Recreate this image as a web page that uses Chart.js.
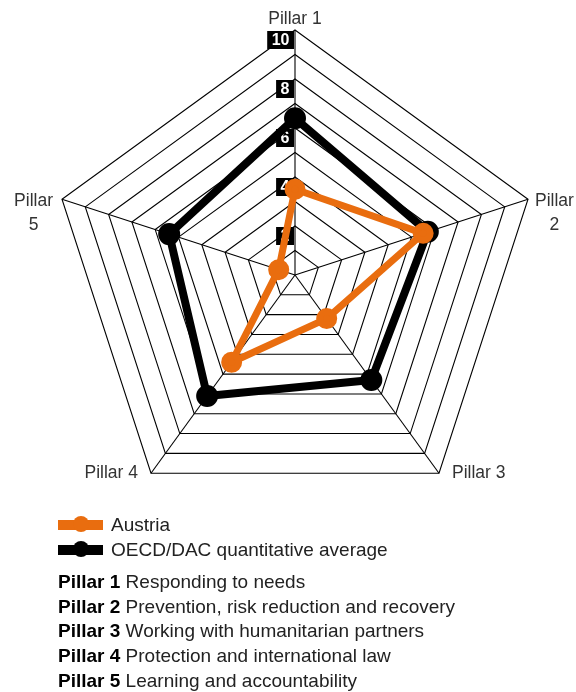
<!DOCTYPE html>
<html>
<head>
<meta charset="utf-8">
<script src="https://cdn.jsdelivr.net/npm/chart.js@4.4.1/dist/chart.umd.min.js"></script>
<style>
  body { margin: 0; width: 576px; height: 692px; background: #fff; position: relative;
         font-family: "Liberation Sans", Arial, sans-serif; color: #222; }
  #wrap { position: absolute; left: 0; top: 0; width: 576px; height: 522px; }
  #legend { position: absolute; left: 58px; top: 513px; font-size: 19px; }
  .row { height: 24.6px; line-height: 24.6px; white-space: nowrap; }
  .key { display: inline-block; position: relative; width: 45px; height: 14px;
         vertical-align: -1px; margin-right: 8px; }
  .key i { position: absolute; left: 0; right: 0; top: 2px; height: 10px; }
  .key b { position: absolute; left: 15px; top: -2px; width: 16px; height: 16px; border-radius: 50%; }
  .gap { height: 8px; }
  .def b { color: #000; }
</style>
</head>
<body>
<div id="wrap"><canvas id="radar"></canvas></div>
<div id="legend"></div>

<script>
// data
const PILLARS = ["Pillar 1", ["Pillar", "2"], "Pillar 3", "Pillar 4", ["Pillar", "5"]];
const AUSTRIA = [3.5, 5.5, 2.2, 4.4, 0.7];
const OECD_DAC = [6.4, 5.7, 5.3, 6.1, 5.4];
const TICK_LABELS = [2, 4, 6, 8, 10];
const DEFINITIONS = [
  ["Pillar 1", "Responding to needs"],
  ["Pillar 2", "Prevention, risk reduction and recovery"],
  ["Pillar 3", "Working with humanitarian partners"],
  ["Pillar 4", "Protection and international law"],
  ["Pillar 5", "Learning and accountability"],
];

const ORANGE = "#e96d0f";
const BLACK = "#000";
const FONT = '"Liberation Sans", Arial, sans-serif';

// black boxes with white numbers, left of the Pillar 1 axis
const tickBoxes = {
  id: "tickBoxes",
  beforeDatasetsDraw(chart) {
    const r = chart.scales.r, ctx = chart.ctx;
    ctx.save();
    ctx.font = "bold 16px " + FONT;
    ctx.textAlign = "center";
    ctx.textBaseline = "middle";
    TICK_LABELS.forEach(v => {
      const p = r.getPointPositionForValue(0, v);
      const w = ctx.measureText(String(v)).width + 9;
      ctx.fillStyle = BLACK;
      ctx.fillRect(p.x - 1 - w, p.y + 1, w, 18);
      ctx.fillStyle = "#fff";
      ctx.fillText(String(v), p.x - 1 - w / 2, p.y + 10.5);
    });
    ctx.restore();
  }
};

// "Pillar n" labels around the outer ring
const pillarLabels = {
  id: "pillarLabels",
  afterDraw(chart) {
    const r = chart.scales.r, ctx = chart.ctx;
    ctx.save();
    ctx.font = "17.5px " + FONT;
    ctx.fillStyle = "#333";
    ctx.textBaseline = "middle";
    PILLARS.forEach((lab, i) => {
      const p = r.getPointPosition(i, r.drawingArea);
      if (Array.isArray(lab)) {
        const w = ctx.measureText(lab[0]).width;
        const cx = i === 1 ? p.x + 7 + w / 2 : p.x - 9 - w / 2;
        ctx.textAlign = "center";
        ctx.fillText(lab[0], cx, p.y + 2);
        ctx.fillText(lab[1], cx, p.y + 26);
      } else if (i === 0) {
        ctx.textAlign = "center";
        ctx.fillText(lab, p.x, p.y - 11);
      } else {
        ctx.textAlign = i === 2 ? "left" : "right";
        ctx.fillText(lab, p.x + (i === 2 ? 13 : -13), p.y);
      }
    });
    ctx.restore();
  }
};

new Chart(document.getElementById("radar"), {
  type: "radar",
  data: {
    labels: PILLARS,
    datasets: [
      { label: "Austria", data: AUSTRIA, borderColor: ORANGE, backgroundColor: ORANGE,
        pointBackgroundColor: ORANGE, borderWidth: 7, pointRadius: 7, fill: false },
      { label: "OECD/DAC quantitative average", data: OECD_DAC, borderColor: BLACK,
        backgroundColor: BLACK, pointBackgroundColor: BLACK, borderWidth: 8, pointRadius: 7, fill: false },
    ],
  },
  options: {
    responsive: true, maintainAspectRatio: false, animation: false,
    layout: { padding: { left: 50, right: 36, top: 30, bottom: 2 } },
    plugins: { legend: { display: false }, tooltip: { enabled: false } },
    elements: { line: { tension: 0, borderJoinStyle: "round" }, point: { borderWidth: 0 } },
    scales: {
      r: {
        min: 0, max: 10,
        ticks: { stepSize: 1, display: false },
        grid: { color: BLACK, lineWidth: 1.1 },
        angleLines: { color: BLACK, lineWidth: 1.1 },
        pointLabels: { display: false },
      },
    },
  },
  plugins: [tickBoxes, pillarLabels],
});

// legend + pillar definitions below the chart
const legend = document.getElementById("legend");
legend.innerHTML =
  [["Austria", ORANGE], ["OECD/DAC quantitative average", BLACK]]
    .map(([t, c]) => `<div class="row"><span class="key"><i style="background:${c}"></i>` +
      `<b style="background:${c}"></b></span>${t}</div>`).join("") +
  `<div class="gap"></div>` +
  DEFINITIONS.map(([p, t]) => `<div class="row def"><b>${p}</b> ${t}</div>`).join("");
</script>
</body>
</html>
